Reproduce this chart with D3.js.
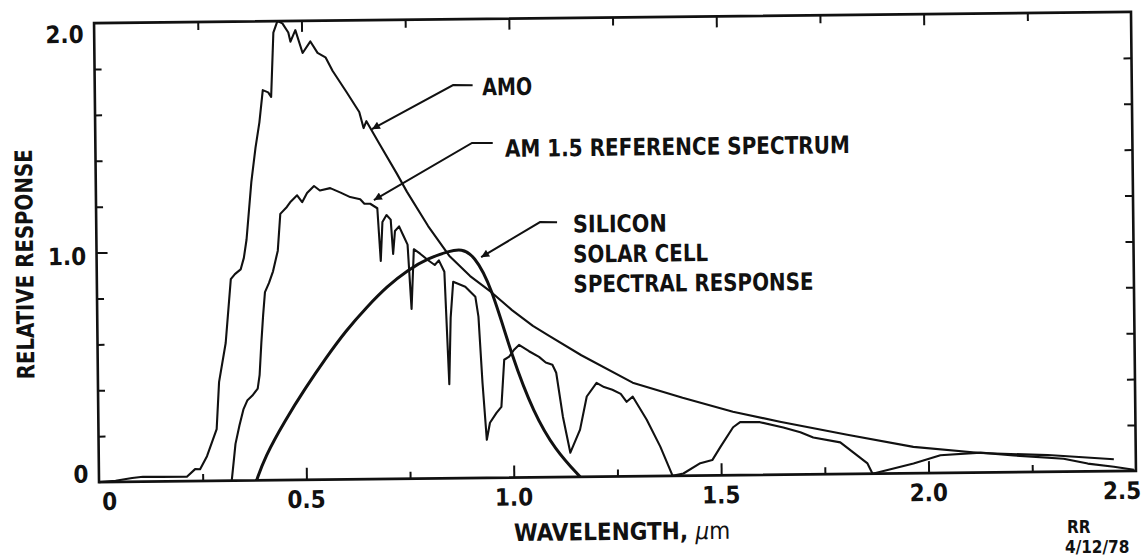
<!DOCTYPE html>
<html>
<head>
<meta charset="utf-8">
<script src="https://cdn.jsdelivr.net/npm/d3@7"></script>
<style>
  body { margin: 0; background: #fff; }
  svg { display: block; }
  text { font-family: "DejaVu Sans Condensed", "DejaVu Sans", sans-serif; font-weight: bold; fill: #111; }
</style>
</head>
<body>
<svg id="chart" width="1142" height="559"></svg>
<script>
// Wavelength axis (micrometres) and relative response axis
const xMajorTicks = [0, 0.5, 1.0, 1.5, 2.0, 2.5];
const xMajorLabels = ["0", "0.5", "1.0", "1.5", "2.0", "2.5"];
const xMinorTicks = [0.25, 0.75, 1.25, 1.75, 2.25];
const yMinorTicks = [0.2, 0.4, 0.6, 0.8, 1.2, 1.4, 1.6, 1.8];
const yMajorTicks = [0, 1.0, 2.0];
const yMajorLabels = ["0", "1.0", "2.0"];

// Extraterrestrial (air mass zero) spectrum
const amo = [
  [0.00, 0.000], [0.04, 0.005], [0.08, 0.016], [0.106, 0.021], [0.15, 0.020],
  [0.212, 0.019], [0.232, 0.052], [0.244, 0.051], [0.261, 0.108], [0.285, 0.225],
  [0.292, 0.430], [0.309, 0.600], [0.323, 0.878], [0.333, 0.900], [0.347, 0.920],
  [0.355, 0.970], [0.362, 1.050], [0.375, 1.300], [0.386, 1.450], [0.396, 1.560],
  [0.405, 1.700], [0.418, 1.690], [0.425, 1.670], [0.432, 1.950], [0.442, 2.000],
  [0.454, 1.990], [0.468, 1.950], [0.473, 1.910], [0.485, 1.960], [0.502, 1.860],
  [0.521, 1.910], [0.538, 1.860], [0.557, 1.840], [0.574, 1.780], [0.606, 1.690],
  [0.637, 1.600], [0.647, 1.530], [0.654, 1.560], [0.685, 1.460], [0.726, 1.330],
  [0.750, 1.250], [0.800, 1.100], [0.850, 0.970], [0.900, 0.880], [0.950, 0.810],
  [1.000, 0.730], [1.050, 0.660], [1.088, 0.617], [1.166, 0.530], [1.289, 0.408],
  [1.409, 0.340], [1.530, 0.277], [1.643, 0.231], [1.805, 0.171], [1.964, 0.115],
  [2.126, 0.085], [2.288, 0.073], [2.447, 0.052]
];

// Terrestrial AM 1.5 reference spectrum
const am15 = [
  [0.320, 0.000], [0.325, 0.080], [0.330, 0.160], [0.340, 0.240], [0.350, 0.310],
  [0.360, 0.350], [0.372, 0.370], [0.385, 0.400], [0.390, 0.460], [0.395, 0.600],
  [0.400, 0.720], [0.405, 0.820], [0.415, 0.860], [0.425, 0.910], [0.437, 1.000],
  [0.444, 1.160], [0.460, 1.190], [0.468, 1.210], [0.485, 1.240], [0.497, 1.210],
  [0.509, 1.250], [0.526, 1.280], [0.540, 1.260], [0.565, 1.270], [0.590, 1.250],
  [0.613, 1.230], [0.637, 1.220], [0.647, 1.200], [0.661, 1.200], [0.678, 1.180],
  [0.685, 0.950], [0.690, 1.120], [0.700, 1.150], [0.710, 1.130], [0.715, 0.980],
  [0.720, 1.080], [0.730, 1.100], [0.740, 1.060], [0.750, 1.020], [0.758, 0.740],
  [0.765, 1.000], [0.780, 0.980], [0.800, 0.950], [0.815, 0.930], [0.825, 0.950],
  [0.838, 0.900], [0.847, 0.410], [0.852, 0.700], [0.859, 0.856], [0.888, 0.834],
  [0.912, 0.790], [0.919, 0.703], [0.927, 0.416], [0.936, 0.166], [0.944, 0.240],
  [0.960, 0.283], [0.972, 0.309], [0.980, 0.514], [0.992, 0.527], [1.004, 0.557],
  [1.016, 0.578], [1.040, 0.550], [1.064, 0.525], [1.080, 0.500], [1.096, 0.490],
  [1.105, 0.455], [1.120, 0.263], [1.137, 0.106], [1.161, 0.206], [1.178, 0.350],
  [1.202, 0.409], [1.220, 0.390], [1.240, 0.378], [1.260, 0.360], [1.274, 0.325],
  [1.289, 0.347], [1.322, 0.246], [1.354, 0.128], [1.383, 0.000], [1.409, 0.010],
  [1.450, 0.054], [1.479, 0.067], [1.499, 0.124], [1.530, 0.209], [1.547, 0.231],
  [1.595, 0.230], [1.651, 0.206], [1.692, 0.184], [1.723, 0.161], [1.788, 0.138],
  [1.853, 0.045], [1.865, 0.000], [1.964, 0.043], [2.029, 0.077], [2.126, 0.087],
  [2.206, 0.073], [2.326, 0.056], [2.384, 0.034], [2.447, 0.019], [2.495, 0.005]
];

// Silicon solar cell spectral response (normalised)
const silicon = [
  [0.380, 0.000], [0.400, 0.100], [0.450, 0.260], [0.500, 0.400], [0.550, 0.530],
  [0.600, 0.650], [0.650, 0.750], [0.700, 0.840], [0.750, 0.910], [0.800, 0.960],
  [0.850, 0.990], [0.880, 1.000], [0.910, 0.970], [0.950, 0.840], [1.000, 0.520],
  [1.050, 0.280], [1.100, 0.120], [1.160, 0.000]
];

// Callouts: label lines and the leader path (elbow then arrow to the curve)
const callouts = [
  { lines: ["AMO"], at: [0.934, 1.667], leader: [[0.911, 1.712], [0.864, 1.713], [0.667, 1.525]] },
  { lines: ["AM 1.5 REFERENCE SPECTRUM"], at: [0.987, 1.398], leader: [[0.958, 1.459], [0.908, 1.460], [0.670, 1.216]] },
  { lines: ["SILICON", "SOLAR CELL", "SPECTRAL RESPONSE"], at: [1.149, 1.065], leader: [[1.111, 1.111], [1.070, 1.112], [0.927, 0.962]] }
];

const svg = d3.select("#chart");
const plotLeft = 96.5, plotRight = 1133.5, plotTop = 17.5, plotBottom = 476.5;
const x = d3.scaleLinear().domain([0, 2.5]).range([plotLeft, plotRight]);
const y = d3.scaleLinear().domain([0, 2]).range([plotBottom, plotTop]);
const ink = "#111";

// lettering is narrow; set run lengths so each label keeps its drafted width
const letteringWidth = {
  "AMO": 50, "AM 1.5 REFERENCE SPECTRUM": 345, "SILICON": 94,
  "SOLAR CELL": 135, "SPECTRAL RESPONSE": 240, "RELATIVE RESPONSE": 230
};

svg.append("defs").append("marker")
  .attr("id", "arrow").attr("viewBox", "0 0 10 10")
  .attr("refX", 10).attr("refY", 5)
  .attr("markerWidth", 14).attr("markerHeight", 8)
  .attr("markerUnits", "userSpaceOnUse")
  .attr("orient", "auto")
  .append("path").attr("d", "M0,0 L10,5 L0,10 Z").attr("fill", ink);

// the drawing sits very slightly tilted on the sheet
const g = svg.append("g").attr("transform", "rotate(-0.62,615,247)");

// frame
g.append("rect")
  .attr("x", plotLeft).attr("y", plotTop)
  .attr("width", plotRight - plotLeft).attr("height", plotBottom - plotTop)
  .attr("fill", "none").attr("stroke", ink).attr("stroke-width", 2.6);

function tickAxis(axis, tx, ty) {
  const a = g.append("g").attr("transform", `translate(${tx},${ty})`).call(axis);
  a.select(".domain").remove();
  a.selectAll("text").remove();
  a.selectAll("line").attr("stroke", ink).attr("stroke-width", 2);
  return a;
}

// inward ticks on all four sides
tickAxis(d3.axisBottom(x).tickValues(xMajorTicks.slice(1, -1)).tickSize(-12), 0, plotBottom);
tickAxis(d3.axisBottom(x).tickValues(xMinorTicks).tickSize(-7), 0, plotBottom);
tickAxis(d3.axisTop(x).tickValues(xMajorTicks.slice(1, -1)).tickSize(-11), 0, plotTop);
tickAxis(d3.axisTop(x).tickValues(xMinorTicks).tickSize(-8), 0, plotTop);
tickAxis(d3.axisLeft(y).tickValues(yMinorTicks).tickSize(-7), plotLeft, 0);
tickAxis(d3.axisLeft(y).tickValues([1.0]).tickSize(-11), plotLeft, 0);
tickAxis(d3.axisRight(y).tickValues(yMinorTicks.concat([1.0])).tickSize(-8), plotRight, 0);

// tick labels
g.append("g").selectAll("text")
  .data(xMajorTicks)
  .join("text")
  .attr("x", d => x(d))
  .attr("y", plotBottom + 28)
  .attr("text-anchor", (d, i) => i === 0 ? "start" : (i === xMajorTicks.length - 1 ? "end" : "middle"))
  .attr("dx", (d, i) => i === 0 ? 3 : (i === xMajorTicks.length - 1 ? 5 : 0))
  .attr("font-size", 24)
  .text((d, i) => xMajorLabels[i]);

const yLabelShift = [0.5, 12, 19.5];
g.append("g").selectAll("text")
  .data(yMajorTicks)
  .join("text")
  .attr("x", 86)
  .attr("y", (d, i) => y(d) + yLabelShift[i])
  .attr("text-anchor", "end")
  .attr("font-size", 24)
  .text((d, i) => yMajorLabels[i]);

// axis titles
const xTitle = g.append("text")
  .attr("x", 619).attr("y", 540)
  .attr("text-anchor", "middle").attr("font-size", 24);
xTitle.append("tspan").text("WAVELENGTH, ");
xTitle.append("tspan").attr("font-style", "italic").attr("font-weight", "normal").text("μ");
xTitle.append("tspan").attr("font-weight", "normal").text("m");

g.append("text")
  .attr("transform", "translate(33,258) rotate(-90)")
  .attr("text-anchor", "middle").attr("font-size", 24)
  .attr("textLength", letteringWidth["RELATIVE RESPONSE"])
  .attr("lengthAdjust", "spacingAndGlyphs")
  .text("RELATIVE RESPONSE");

// curves
const jagged = d3.line().x(d => x(d[0])).y(d => y(d[1]));
const smooth = d3.line().x(d => x(d[0])).y(d => y(d[1])).curve(d3.curveBasis);

g.append("path").datum(amo).attr("d", jagged)
  .attr("fill", "none").attr("stroke", ink).attr("stroke-width", 2.1).attr("stroke-linejoin", "round");
g.append("path").datum(am15).attr("d", jagged)
  .attr("fill", "none").attr("stroke", ink).attr("stroke-width", 2.1).attr("stroke-linejoin", "round");
g.append("path").datum(silicon).attr("d", smooth)
  .attr("fill", "none").attr("stroke", ink).attr("stroke-width", 3);

// callouts
callouts.forEach(c => {
  g.append("path").datum(c.leader).attr("d", d3.line().x(d => x(d[0])).y(d => y(d[1])))
    .attr("fill", "none").attr("stroke", ink).attr("stroke-width", 2)
    .attr("marker-end", "url(#arrow)");
  c.lines.forEach((line, i) => {
    g.append("text")
      .attr("x", x(c.at[0])).attr("y", y(c.at[1]) + i * 30)
      .attr("font-size", 24)
      .attr("textLength", letteringWidth[line])
      .attr("lengthAdjust", "spacingAndGlyphs")
      .text(line);
  });
});

// drafter's initials and date
svg.append("text").attr("x", 1067).attr("y", 533).attr("font-size", 17).text("RR");
svg.append("text").attr("x", 1065).attr("y", 553).attr("font-size", 17).text("4/12/78");
</script>
</body>
</html>
